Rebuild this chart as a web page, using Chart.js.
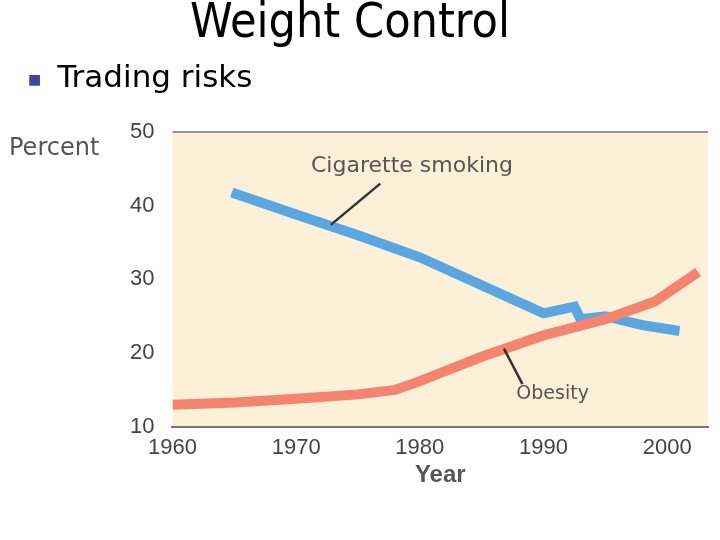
<!DOCTYPE html>
<html><head><meta charset="utf-8">
<script src="https://cdn.jsdelivr.net/npm/chart.js@4"></script>
<style>
body{margin:0;width:720px;height:540px;background:#fff;position:relative;overflow:hidden;font-family:"DejaVu Sans",sans-serif}
#title{position:absolute;top:-8px;left:0;width:700px;text-align:center;font-size:48px;color:#000;font-family:"DejaVu Sans Condensed","DejaVu Sans",sans-serif}
#sub{position:absolute;top:58px;left:28px;font-size:31px;color:#000}
#sub span{color:#3a46a0;font-size:14px;vertical-align:middle;margin-right:16px}
#pct{position:absolute;top:133px;left:9px;font-size:24px;color:#555}
#wrap{position:absolute;left:0;top:0;width:720px;height:540px}
</style></head><body>
<div id="wrap"><canvas id="c" width="720" height="540"></canvas></div>
<div id="title">Weight Control</div>
<div id="sub"><span>■</span>Trading risks</div>
<div id="pct">Percent</div>
<script>
const smokingYears = [1964.8, 1970, 1975, 1980, 1985, 1990, 1992.5, 1993, 1995, 1998, 2001];
const smokingPct   = [41.8, 38.8, 36.0, 33.0, 29.2, 25.4, 26.3, 24.6, 25.0, 23.8, 23.0];
const obesityYears = [1960, 1965, 1970, 1975, 1978, 1980, 1985, 1990, 1995, 1999, 2002.5];
const obesityPct   = [13.0, 13.3, 13.8, 14.4, 15.0, 16.2, 19.5, 22.4, 24.6, 27.0, 31.0];
const yTicks = [10, 20, 30, 40, 50];
const xTicks = [1960, 1970, 1980, 1990, 2000];

const toPts = (xs, ys) => xs.map((x, i) => ({x, y: ys[i]}));

const labels = {
  id: 'labels',
  afterDatasetsDraw(ch) {
    const {ctx, scales: {x, y}} = ch;
    ctx.save();
    ctx.fillStyle = '#555';
    ctx.font = '22px "DejaVu Sans"';
    ctx.fillText('Cigarette smoking', x.getPixelForValue(1971.2), y.getPixelForValue(44.6));
    ctx.font = '19px "DejaVu Sans"';
    ctx.fillText('Obesity', x.getPixelForValue(1987.8), y.getPixelForValue(13.8));
    ctx.strokeStyle = '#333'; ctx.lineWidth = 2.5;
    ctx.beginPath();
    ctx.moveTo(x.getPixelForValue(1976.8), y.getPixelForValue(43.0));
    ctx.lineTo(x.getPixelForValue(1972.8), y.getPixelForValue(37.4));
    ctx.moveTo(x.getPixelForValue(1988.3), y.getPixelForValue(15.8));
    ctx.lineTo(x.getPixelForValue(1986.8), y.getPixelForValue(20.6));
    ctx.stroke();
    ctx.restore();
  }
};
const bg = {
  id: 'bg',
  beforeDraw(ch) {
    const {ctx, chartArea: a} = ch;
    ctx.save();
    ctx.fillStyle = '#fdf0d9';
    ctx.fillRect(a.left, a.top, a.right - a.left, a.bottom - a.top);
    ctx.strokeStyle = '#999'; ctx.lineWidth = 2;
    ctx.beginPath(); ctx.moveTo(a.left, a.top); ctx.lineTo(a.right, a.top); ctx.stroke();
    ctx.restore();
  }
};

new Chart(document.getElementById('c'), {
  type: 'line',
  data: {
    datasets: [
      {data: toPts(obesityYears, obesityPct), borderColor: '#f4846e', borderWidth: 10, pointRadius: 0, tension: 0},
      {data: toPts(smokingYears, smokingPct), borderColor: '#5aa6e0', borderWidth: 10, pointRadius: 0, tension: 0}
    ]
  },
  options: {
    responsive: false, animation: false,
    layout: {padding: {left: 120, top: 132, right: 12, bottom: 50}},
    plugins: {legend: {display: false}, tooltip: {enabled: false}},
    scales: {
      x: {type: 'linear', min: 1960, max: 2003.3,
        afterBuildTicks: s => { s.ticks = xTicks.map(v => ({value: v})); },
        grid: {display: false}, border: {color: '#777', width: 2},
        ticks: {color: '#444', font: {size: 22}, padding: 0, maxRotation: 0, callback: v => String(v)},
        title: {display: true, text: 'Year', color: '#555', font: {size: 24, weight: 'bold'}, padding: 0}},
      y: {min: 10, max: 50,
        afterBuildTicks: s => { s.ticks = yTicks.map(v => ({value: v})); },
        grid: {display: false}, border: {display: false},
        ticks: {color: '#444', font: {size: 22}, padding: 10}}
    }
  },
  plugins: [bg, labels]
});
</script>
</body></html>
